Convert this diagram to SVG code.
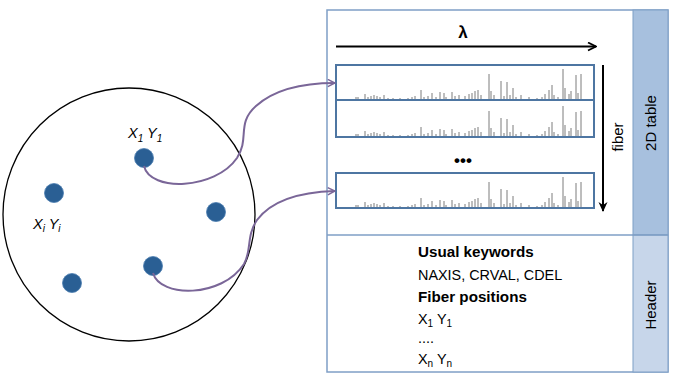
<svg xmlns="http://www.w3.org/2000/svg" width="678" height="381" viewBox="0 0 678 381">
<defs>
<style>
.lbl{font-family:"Liberation Sans",Arial,sans-serif;fill:#000}
.it{font-style:italic;font-size:14.5px}
.hdr{font-size:14.4px}
.hb{font-size:15.2px;font-weight:bold}
.side{font-size:15px}
.dot{fill:#2a5f94;stroke:#4a7cb0;stroke-width:0.8}
.spbox{fill:#fff;stroke:#4e76a2;stroke-width:2}
.conn{fill:none;stroke:#7a6698;stroke-width:2}
.spec{fill:none;stroke:#7d7d7d;stroke-width:1}
</style>
<marker id="ah" viewBox="0 0 10 10" refX="9" refY="5" markerWidth="9" markerHeight="9" markerUnits="userSpaceOnUse" orient="auto">
<path d="M1,1 L9,5 L1,9" fill="none" stroke="#7a6698" stroke-width="1.6"/>
</marker>
<marker id="ak" viewBox="0 0 10 10" refX="9" refY="5" markerWidth="10" markerHeight="10" markerUnits="userSpaceOnUse" orient="auto">
<path d="M1,1 L9,5 L1,9" fill="none" stroke="#000" stroke-width="1.8"/>
</marker>
<marker id="akf" viewBox="0 0 10 10" refX="9" refY="5" markerWidth="10" markerHeight="10" markerUnits="userSpaceOnUse" orient="auto">
<path d="M0,0.5 L10,5 L0,9.5 L3,5 Z" fill="#000"/>
</marker>
<path id="spec" class="spec" d="M20,0 v-2 M22,0 v-2 M29,0 v-5 M32,0 v-2 M35,0 v-3 M38,0 v-4 M41,0 v-3 M44,0 v-2 M48,0 v-4 M52,0 v-1 M57,0 v-1 M64,0 v-1 M72,0 v-1 M76,0 v-2 M79,0 v-3 M85,0 v-9 M88,0 v-2 M92,0 v-3 M96,0 v-6 M100,0 v-2 M104,0 v-7 M108,0 v-6 M110,0 v-2 M116,0 v-7 M119,0 v-3 M123,0 v-4 M129,0 v-3 M133,0 v-5 M136,0 v-6 M139,0 v-8 M142,0 v-9 M145,0 v-4 M153,0 v-25 M155,0 v-8 M158,0 v-4 M165,0 v-18 M168,0 v-3 M171,0 v-17 M174,0 v-4 M177,0 v-11 M180,0 v-2 M185,0 v-4 M193,0 v-2 M201,0 v-1 M206,0 v-2 M209,0 v-5 M213,0 v-9 M216,0 v-14 M218,0 v-4 M222,0 v-2 M227,0 v-30 M229,0 v-11 M233,0 v-5 M235,0 v-8 M240,0 v-24 M242,0 v-6 M245,0 v-25"/>
</defs>
<rect width="678" height="381" fill="#fff"/>

<g id="field">
<ellipse cx="129" cy="214.5" rx="126" ry="126.5" fill="none" stroke="#000" stroke-width="1.3"/>
</g>
<g id="fiber1"><circle class="dot" cx="144" cy="158" r="9.5"/>
<text class="lbl it" x="128" y="138">X<tspan font-size="10" dy="4">1</tspan><tspan dy="-4"> Y</tspan><tspan font-size="10" dy="4">1</tspan></text></g>
<g id="fiberi"><circle class="dot" cx="54" cy="193" r="9.5"/>
<text class="lbl it" x="33" y="229">X<tspan font-size="10" dy="3">i</tspan><tspan dy="-3"> Y</tspan><tspan font-size="10" dy="3">i</tspan></text></g>
<g id="fiber3"><circle class="dot" cx="216" cy="212" r="9.5"/></g>
<g id="fiber4"><circle class="dot" cx="153" cy="266" r="9.5"/></g>
<g id="fiber5"><circle class="dot" cx="72" cy="283" r="9.5"/></g>

<g id="fits">
<rect x="327" y="10" width="341" height="362" fill="#fff" stroke="#7f9fc6" stroke-width="1.5"/>
<rect x="633" y="10" width="35" height="225" fill="#a7c0de" stroke="#7f9fc6" stroke-width="1"/>
<rect x="633" y="235" width="35" height="137" fill="#c7d6ea" stroke="#7f9fc6" stroke-width="1"/>
<line x1="327" y1="235" x2="668" y2="235" stroke="#7f9fc6" stroke-width="1.5"/>
<text class="lbl side" transform="translate(656,123) rotate(-90)" text-anchor="middle">2D table</text>
<text class="lbl side" transform="translate(656,305) rotate(-90)" text-anchor="middle">Header</text>
</g>

<g id="table">
<line x1="336" y1="46.5" x2="596" y2="46.5" stroke="#000" stroke-width="2" marker-end="url(#ak)"/>
<text class="lbl" x="463" y="38" font-size="17" font-weight="bold" text-anchor="middle">λ</text>
<rect class="spbox" x="336" y="65" width="258" height="35"/>
<use href="#spec" x="336" y="99"/>
<rect class="spbox" x="336" y="100" width="258" height="37"/>
<use href="#spec" x="336" y="136"/>
<text class="lbl" x="463" y="166" font-size="17" font-weight="bold" text-anchor="middle">•••</text>
<rect class="spbox" x="336" y="173" width="258" height="35"/>
<use href="#spec" x="336" y="207"/>
<line x1="603" y1="65" x2="603" y2="211" stroke="#000" stroke-width="2" marker-end="url(#akf)"/>
<text class="lbl side" transform="translate(623,137) rotate(-90)" text-anchor="middle">fiber</text>
</g>

<g id="header">
<text class="lbl hb" x="418" y="257">Usual keywords</text>
<text class="lbl hdr" x="418" y="280">NAXIS, CRVAL, CDEL</text>
<text class="lbl hb" x="418" y="302">Fiber positions</text>
<text class="lbl hdr" x="418" y="324">X<tspan font-size="10" dy="3">1</tspan><tspan dy="-3"> Y</tspan><tspan font-size="10" dy="3">1</tspan></text>
<text class="lbl hdr" x="418" y="343">....</text>
<text class="lbl hdr" x="418" y="364">X<tspan font-size="10" dy="3">n</tspan><tspan dy="-3"> Y</tspan><tspan font-size="10" dy="3">n</tspan></text>
</g>

<g id="connectors">
<path class="conn" marker-end="url(#ah)" d="M144,166 C150,192 215,190 237,158 C250,138 236,124 256,106 C276,88 305,83 335,83"/>
<path class="conn" marker-end="url(#ah)" d="M153,273 C160,298 222,298 244,264 C252,250 246,236 257,220 C272,200 300,192 335,191"/>
</g>
</svg>
